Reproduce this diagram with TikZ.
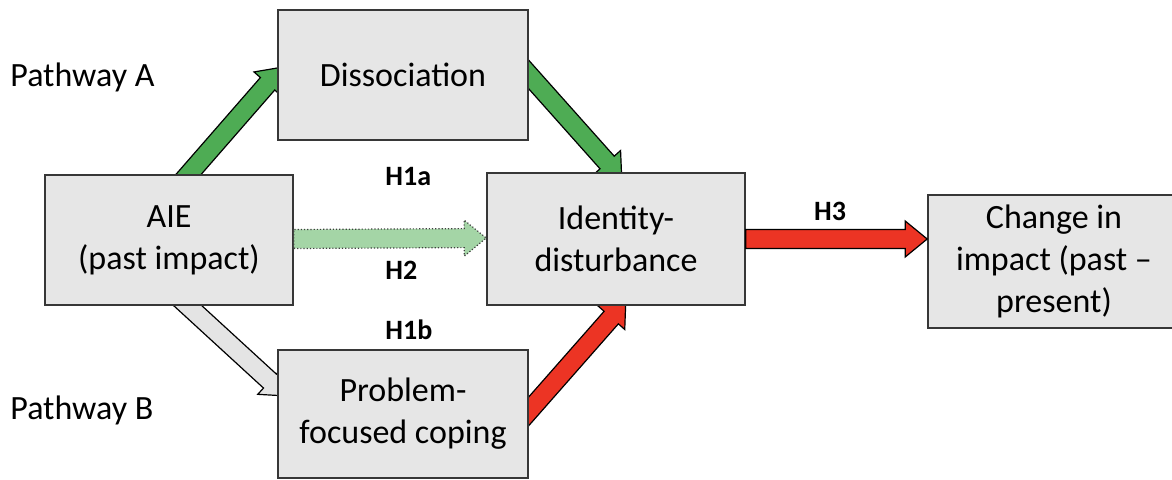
\documentclass[tikz,border=0pt]{standalone}
\usepackage{fontspec}
\setmainfont{Carlito}
\usepackage{tikz}
\usetikzlibrary{positioning}
\usetikzlibrary{calc}
\usetikzlibrary{backgrounds}
\definecolor{boxfill}{RGB}{230,230,230}
\definecolor{boxline}{RGB}{55,55,55}
\definecolor{pathgreen}{RGB}{78,172,84}
\definecolor{palegreen}{RGB}{164,213,166}
\definecolor{palegray}{RGB}{228,228,228}
\definecolor{pathred}{RGB}{236,52,36}
% block arrow from one point to another
\def\sw{4.75pt}
\def\hw{9pt}
\def\hl{11pt}
\newcommand{\blockarrow}[3][]{%
  \draw[#1] let \p1=(#2), \p2=(#3),
    \n1={atan2(\y2-\y1,\x2-\x1)}, \n2={veclen(\x2-\x1,\y2-\y1)} in
    [shift={(\p1)}, rotate=\n1]
    (0pt,-\sw) -- ({\n2*1pt-\hl},-\sw) -- ({\n2*1pt-\hl},-\hw) -- ({\n2*1pt},0pt)
    -- ({\n2*1pt-\hl},\hw) -- ({\n2*1pt-\hl},\sw) -- (0pt,\sw) -- cycle;}

\begin{document}
\begin{tikzpicture}[x=0.5pt,y=-0.5pt,
    box/.style={draw=boxline,fill=boxfill,line width=0.8pt,align=center,inner sep=2pt,
      font=\fontsize{17}{21}\selectfont},
    hlabel/.style={inner sep=0pt,font=\fontsize{14}{16}\selectfont\bfseries},
    pathlabel/.style={inner sep=0pt,font=\fontsize{17}{21}\selectfont},
    fatarrow/.style={draw=black,line width=0.6pt,line join=miter}]
	\useasboundingbox (0,0) rectangle (1172,480);
	\node[box,minimum width=124pt,minimum height=65pt] (aie) at (169,240) {AIE\\(past impact)};
	\node[box,minimum width=125pt,minimum height=65pt] (diss) at (403,75) {Dissociation};
	\node[box,minimum width=129pt,minimum height=66pt] (idd) at (616,239) {Identity-\\disturbance};
	\node[box,minimum width=125pt,minimum height=64pt] (pfc) at (403,414) {Problem-\\focused coping};
	\node[box,minimum width=126pt,minimum height=66.5pt] (cii) at (1054,261.5) {Change in\\impact (past~–\\present)};
	\node[pathlabel,anchor=west] (pa) at (10,77) {Pathway A};
	\node[pathlabel,anchor=west] (pb) at (10,410) {Pathway B};
	\node[hlabel,anchor=west] (h1a) at (385,177) {H1a};
	\node[hlabel,anchor=west] (h2) at (385,270) {H2};
	\node[hlabel,anchor=west] (h1b) at (385,330) {H1b};
	\node[hlabel] (h3) at (830,211) {H3};
	\coordinate (h3end) at (idd.east -| cii.west);
	\begin{scope}[on background layer]
		\blockarrow[fatarrow,fill=pathgreen]{$(aie.north)+(11,10)$}{$(diss.west)+(5,-8)$}
		\blockarrow[fatarrow,fill=pathgreen]{$(diss.east)+(-13,-15)$}{$(idd.north)+(6,7)$}
		\blockarrow[fatarrow,fill=palegray]{$(aie.south)+(8,-10)$}{$(pfc.west)+(9,-18)$}
		\blockarrow[fatarrow,fill=pathred]{$(pfc.east)+(-13,12)$}{$(idd.south)+(10,-5)$}
	\end{scope}
	\blockarrow[fatarrow,draw=black!75,densely dotted,fill=palegreen]{$(aie.east)+(0,-1)$}{$(idd.west)+(0,-1)$}
	\blockarrow[fatarrow,fill=pathred]{idd.east}{h3end}
\end{tikzpicture}
\end{document}
